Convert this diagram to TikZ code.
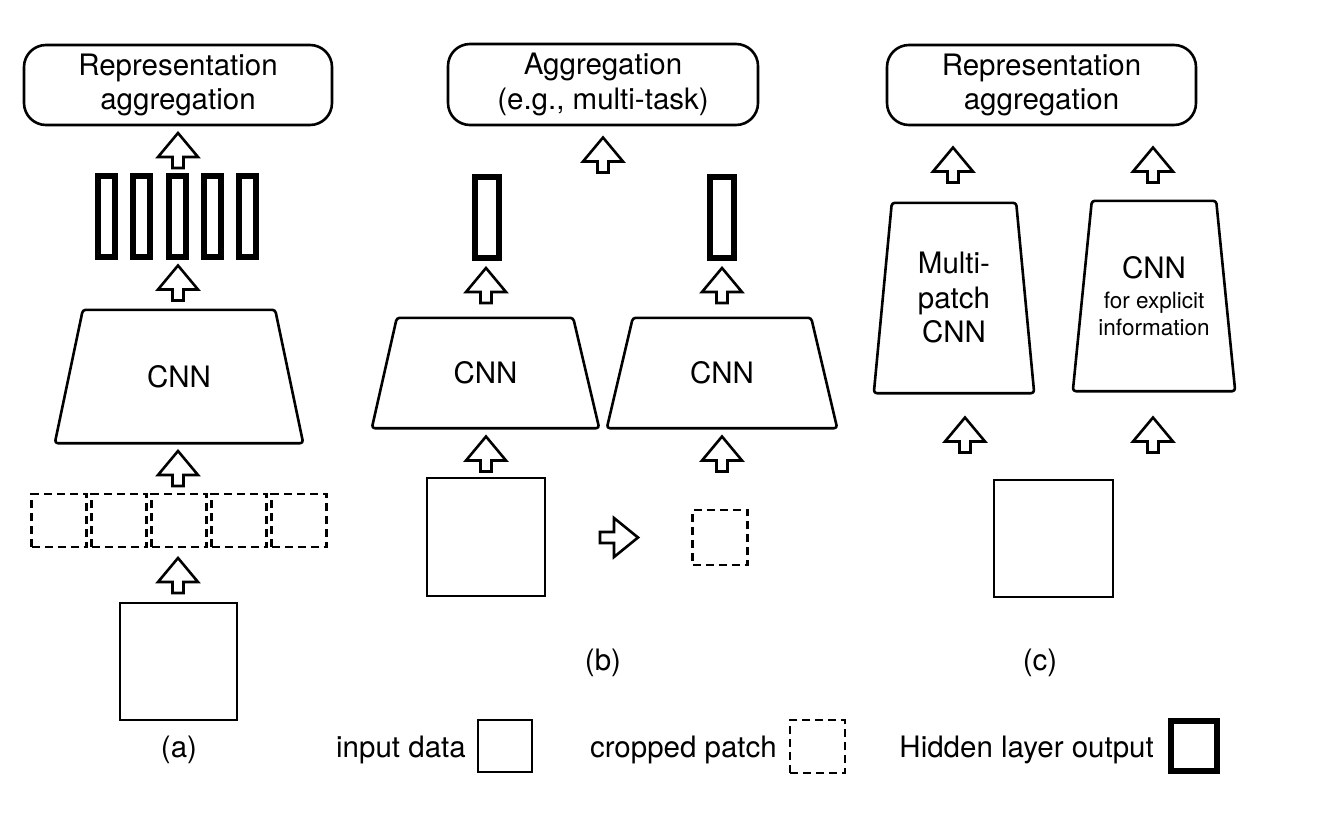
\documentclass[tikz,border=0pt]{standalone}
\usepackage{fontspec}
\setmainfont{TeX Gyre Heros}
\usetikzlibrary{calc}
\newcommand\txtbig{\fontsize{29.5}{34.5}\selectfont}
\newcommand\txtsmall{\fontsize{22.5}{27}\selectfont}
\tikzset{
 aggbox/.style={draw, line width=2.6pt, rounded corners=22pt, minimum width=308pt, minimum height=80pt, align=center, font=\txtbig, inner sep=0pt},
 hidden/.style={draw, line width=6pt, minimum width=17pt, minimum height=81pt, inner sep=0pt},
 hiddenb/.style={hidden, minimum width=24pt},
 patch/.style={draw, line width=2.4pt, dash pattern=on 8pt off 5pt, minimum width=55pt, minimum height=53pt, inner sep=0pt},
 inbox/.style={draw, line width=2.6pt, minimum width=117pt, minimum height=117pt, inner sep=0pt},
 trapbox/.style={inner sep=0pt, align=center, font=\txtbig},
 trap/.style={draw, line width=2.6pt, rounded corners=3pt, line join=round},
 blk/.style={draw, line width=2.6pt, fill=white, line join=miter},
 lbl/.style={font=\txtbig, inner sep=0pt},
 uparr/.pic={\coordinate (-c) at (0,0);
   \draw[blk] (0,-17.5) -- (20,6.5) -- (5.5,6.5) -- (5.5,17.5) -- (-5.5,17.5) -- (-5.5,6.5) -- (-20,6.5) -- cycle;},
 rarr/.pic={\coordinate (-c) at (0,0);
   \draw[blk] (19,0) -- (-5,-19.5) -- (-5,-5.5) -- (-19,-5.5) -- (-19,5.5) -- (-5,5.5) -- (-5,19.5) -- cycle;},
}
\begin{document}
\begin{tikzpicture}[x=1pt,y=-1pt]
\useasboundingbox (0,0) rectangle (1327,838);
% ---------------- panel (a)
\node[aggbox] (aggA) at (178,85) {Representation\\aggregation};
\pic (a1) at (178,150.5) {uparr};
\foreach \i/\xx in {1/106.5,2/141.8,3/177.1,4/212.4,5/247.7}
  \node[hidden] (hidA\i) at (\xx,216.5) {};
\pic (a2) at (178,283) {uparr};
\node[trapbox, minimum width=248pt, minimum height=133pt] (cnnA) at (179,376.5) {CNN};
\draw[trap] ($(cnnA.north west)+(28,0)$) -- ($(cnnA.north east)+(-28,0)$) -- (cnnA.south east) -- (cnnA.south west) -- cycle;
\pic (a3) at (178,468.5) {uparr};
\foreach \i/\xx in {1/59,2/119,3/179,4/239,5/299}
  \node[patch] (patA\i) at (\xx,520.5) {};
\pic (a4) at (178,575.5) {uparr};
\node[inbox] (inA) at (178.5,661.5) {};
\node[lbl, anchor=base] (labA) at (179,757) {(a)};
% ---------------- panel (b)
\node[aggbox, minimum width=310pt, minimum height=81pt] (aggB) at (603,84.5) {Aggregation\\(e.g., multi-task)};
\pic (b0) at (603,155) {uparr};
\node[hiddenb] (hidB1) at (487,217.5) {};
\node[hiddenb] (hidB2) at (722,217.5) {};
\pic (b1) at (486,285.5) {uparr};
\pic (b2) at (722,285.5) {uparr};
\node[trapbox, minimum width=227pt, minimum height=110pt] (cnnB1) at (485.5,373) {CNN};
\draw[trap] ($(cnnB1.north west)+(25,0)$) -- ($(cnnB1.north east)+(-26,0)$) -- (cnnB1.south east) -- (cnnB1.south west) -- cycle;
\node[trapbox, minimum width=230pt, minimum height=110pt] (cnnB2) at (722,373) {CNN};
\draw[trap] ($(cnnB2.north west)+(26,0)$) -- ($(cnnB2.north east)+(-26,0)$) -- (cnnB2.south east) -- (cnnB2.south west) -- cycle;
\pic (b3) at (486,454) {uparr};
\pic (b4) at (722,454) {uparr};
\node[inbox, minimum width=118pt, minimum height=118pt] (inB) at (486,537) {};
\pic (b5) at (619,537.5) {rarr};
\node[patch, minimum height=55pt] (patB) at (720,537.5) {};
\node[lbl, anchor=base] (labB) at (603,670) {(b)};
% ---------------- panel (c)
\node[aggbox, minimum width=309pt] (aggC) at (1041.5,85) {Representation\\aggregation};
\pic (c1) at (953,165) {uparr};
\pic (c2) at (1153,165) {uparr};
\node[trapbox, minimum width=160pt, minimum height=190pt] (cnnC1) at (954,298) {Multi-\\patch\\CNN};
\draw[trap] ($(cnnC1.north west)+(18,0)$) -- ($(cnnC1.north east)+(-18,0)$) -- (cnnC1.south east) -- (cnnC1.south west) -- cycle;
\node[trapbox, minimum width=162pt, minimum height=190pt] (cnnC2) at (1154,296) {CNN\\[-4pt]{\txtsmall for explicit}\\[-8pt]{\txtsmall information}};
\draw[trap] ($(cnnC2.north west)+(19,0)$) -- ($(cnnC2.north east)+(-19,0)$) -- (cnnC2.south east) -- (cnnC2.south west) -- cycle;
\pic (c3) at (965,435) {uparr};
\pic (c4) at (1153,435) {uparr};
\node[inbox, minimum width=119pt, minimum height=117pt] (inC) at (1053.5,538.5) {};
\node[lbl, anchor=base] (labC) at (1040,670) {(c)};
% ---------------- legend
\node[lbl, anchor=base east] (legIn) at (466,757) {input data};
\node[inbox, minimum width=54pt, minimum height=52pt] (legInBox) at (505,746) {};
\node[lbl, anchor=base east] (legPat) at (777,757) {cropped patch};
\node[patch, minimum width=55pt, minimum height=53pt] (legPatBox) at (817.5,746.5) {};
\node[lbl, anchor=base east] (legHid) at (1154,757) {Hidden layer output};
\node[hidden, minimum width=46pt, minimum height=50pt] (legHidBox) at (1194,746) {};
\end{tikzpicture}
\end{document}
